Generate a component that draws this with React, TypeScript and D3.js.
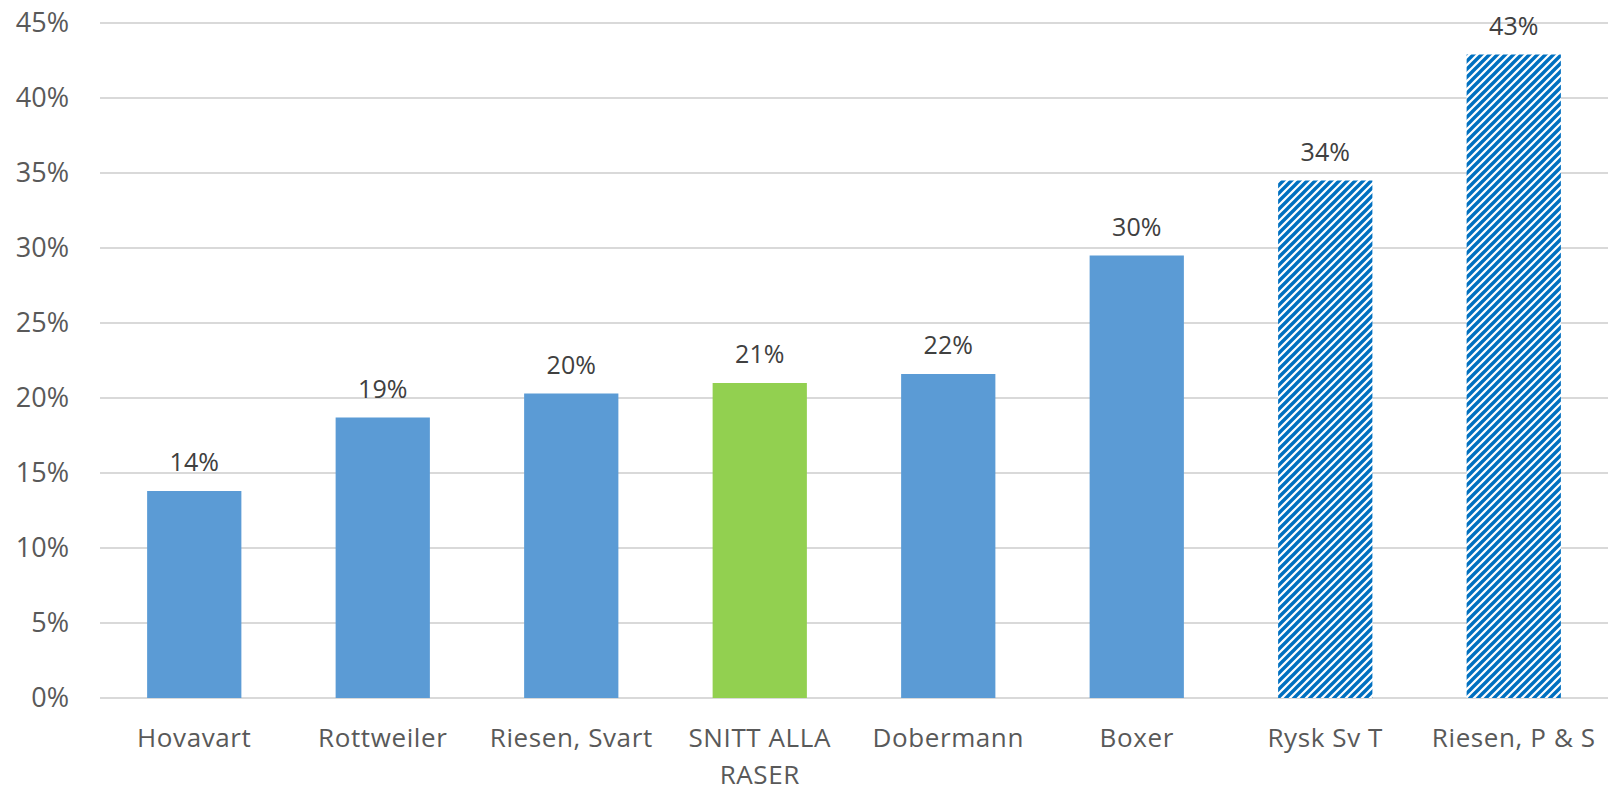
import React, { useEffect, useRef } from 'react';
import * as d3 from 'd3';

// kategorier och värden (andel, %)
const categories = ['Hovavart', 'Rottweiler', 'Riesen, Svart', 'SNITT ALLA RASER', 'Dobermann', 'Boxer', 'Rysk Sv T', 'Riesen, P & S'];
const values = [13.8, 18.7, 20.3, 21.0, 21.6, 29.5, 34.5, 42.9];
const labels = ['14%', '19%', '20%', '21%', '22%', '30%', '34%', '43%'];
// fyllning: 0 = blå, 1 = grön (snitt), 2 = randig
const fillKind = [0, 0, 0, 1, 0, 0, 2, 2];
const yTicks = [0, 5, 10, 15, 20, 25, 30, 35, 40, 45];

const W = 1608;
const H = 792;
const FONT = '"Open Sans", "DejaVu Sans", sans-serif';

export default function App() {
  const ref = useRef<SVGSVGElement>(null);

  useEffect(() => {
    const svg = d3.select(ref.current);
    svg.selectAll('*').remove();

    const padding = { left: 100, right: 0, top: 23, bottom: 94 };
    const x = d3.scaleBand<string>()
      .domain(categories)
      .range([padding.left, W - padding.right])
      .paddingInner(0.5)
      .paddingOuter(0.25);
    const y = d3.scaleLinear()
      .domain([0, 45])
      .range([H - padding.bottom, padding.top]);

    // randigt mönster
    const defs = svg.append('defs');
    const pat = defs.append('pattern')
      .attr('id', 'diag')
      .attr('patternUnits', 'userSpaceOnUse')
      .attr('width', 8)
      .attr('height', 8);
    pat.append('rect').attr('width', 8).attr('height', 8).attr('fill', '#ffffff');
    pat.append('path')
      .attr('d', 'M-2,2 L2,-2 M0,8 L8,0 M6,10 L10,6')
      .attr('stroke', '#0070C0')
      .attr('stroke-width', 3.4);

    // rutnät
    svg.append('g')
      .selectAll('line')
      .data(yTicks)
      .enter()
      .append('line')
      .attr('x1', padding.left)
      .attr('x2', W)
      .attr('y1', d => y(d))
      .attr('y2', d => y(d))
      .attr('stroke', '#D9D9D9')
      .attr('stroke-width', 2);

    // y-etiketter
    svg.append('g')
      .selectAll('text')
      .data(yTicks)
      .enter()
      .append('text')
      .attr('x', 69)
      .attr('y', d => y(d))
      .attr('dy', '0.35em')
      .attr('text-anchor', 'end')
      .attr('font-family', FONT)
      .attr('font-size', 27)
      .attr('fill', '#595959')
      .text(d => d + '%');

    const colors = ['#5B9BD5', '#92D050', 'url(#diag)'];

    // staplar
    svg.append('g')
      .selectAll('rect')
      .data(categories)
      .enter()
      .append('rect')
      .attr('x', d => x(d) as number)
      .attr('width', x.bandwidth())
      .attr('y', (d, i) => y(values[i]))
      .attr('height', (d, i) => y(0) - y(values[i]))
      .attr('fill', (d, i) => colors[fillKind[i]]);

    // dataetiketter
    svg.append('g')
      .selectAll('text')
      .data(categories)
      .enter()
      .append('text')
      .attr('x', d => (x(d) as number) + x.bandwidth() / 2)
      .attr('y', (d, i) => y(values[i]) - 20)
      .attr('text-anchor', 'middle')
      .attr('font-family', FONT)
      .attr('font-size', 25)
      .attr('fill', '#404040')
      .text((d, i) => labels[i]);

    // kategorietiketter med radbrytning
    const cat = svg.append('g')
      .selectAll('text')
      .data(categories)
      .enter()
      .append('text')
      .attr('x', d => (x(d) as number) + x.bandwidth() / 2)
      .attr('y', 747)
      .attr('text-anchor', 'middle')
      .attr('font-family', FONT)
      .attr('font-size', 26)
      .attr('letter-spacing', 0.6)
      .attr('fill', '#595959');

    const maxW = x.step() - 4;
    cat.each(function (d) {
      const t = d3.select(this);
      const words = d.split(' ');
      let line: string[] = [];
      let tspan = t.append('tspan').attr('x', t.attr('x')).attr('dy', 0);
      words.forEach(w => {
        line.push(w);
        tspan.text(line.join(' '));
        const node = tspan.node() as SVGTSpanElement;
        if (node.getComputedTextLength() > maxW && line.length > 1) {
          line.pop();
          tspan.text(line.join(' '));
          line = [w];
          tspan = t.append('tspan').attr('x', t.attr('x')).attr('dy', 37).text(w);
        }
      });
    });
  }, []);

  return (
    <svg
      ref={ref}
      width={W}
      height={H}
      style={{ position: 'absolute', left: 0, top: 0, background: '#ffffff' }}
    />
  );
}
